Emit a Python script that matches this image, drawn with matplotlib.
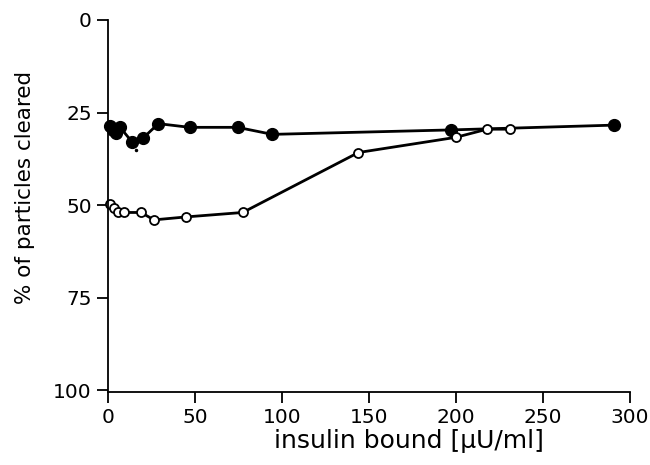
import matplotlib.pyplot as plt

# filled circles
filled_x = [1, 3, 4.6, 7, 14, 20, 29, 47, 74.5, 94.5, 197, 291]
filled_y = [28.6, 29.7, 30.5, 29.0, 33.0, 32.0, 28.0, 29.0, 29.0, 30.9, 29.7, 28.4]

# open circles
open_x = [1, 3.5, 6, 9, 19, 26.5, 45, 77.5, 144, 200, 218, 231]
open_y = [49.8, 50.9, 52.0, 52.0, 52.0, 54.0, 53.2, 52.0, 35.8, 31.7, 29.5, 29.5]

fig = plt.figure(figsize=(6.5, 4.65), dpi=100)
ax = fig.add_axes([0.166, 0.157, 0.803, 0.8])

ax.plot(filled_x, filled_y, '-o', color='black', lw=2, ms=8.5,
        mfc='black', mec='black', clip_on=False)
ax.plot(open_x, open_y, '-o', color='black', lw=2, ms=6.5,
        mfc='white', mec='black', mew=1.3, clip_on=False)
# stray dot under the filled curve
ax.plot([16], [35], 'k.', ms=3)

ax.set_xlim(0, 300)
ax.set_ylim(100.5, 0)
ax.set_xticks([0, 50, 100, 150, 200, 250, 300])
ax.set_yticks([0, 25, 50, 75, 100])

for s in ['top', 'right']:
    ax.spines[s].set_visible(False)
ax.spines['left'].set_linewidth(1.3)
ax.spines['bottom'].set_linewidth(1.3)
ax.tick_params(direction='out', length=8, width=1.3, labelsize=14.5)

ax.set_xlabel('insulin bound [µU/ml]', fontsize=18, labelpad=0)
ax.xaxis.set_label_coords(0.576, -0.1)
ax.set_ylabel('% of particles cleared', fontsize=15.5, labelpad=0)
ax.yaxis.set_label_coords(-0.14, 0.55)

fig.savefig('out.png', dpi=100)
